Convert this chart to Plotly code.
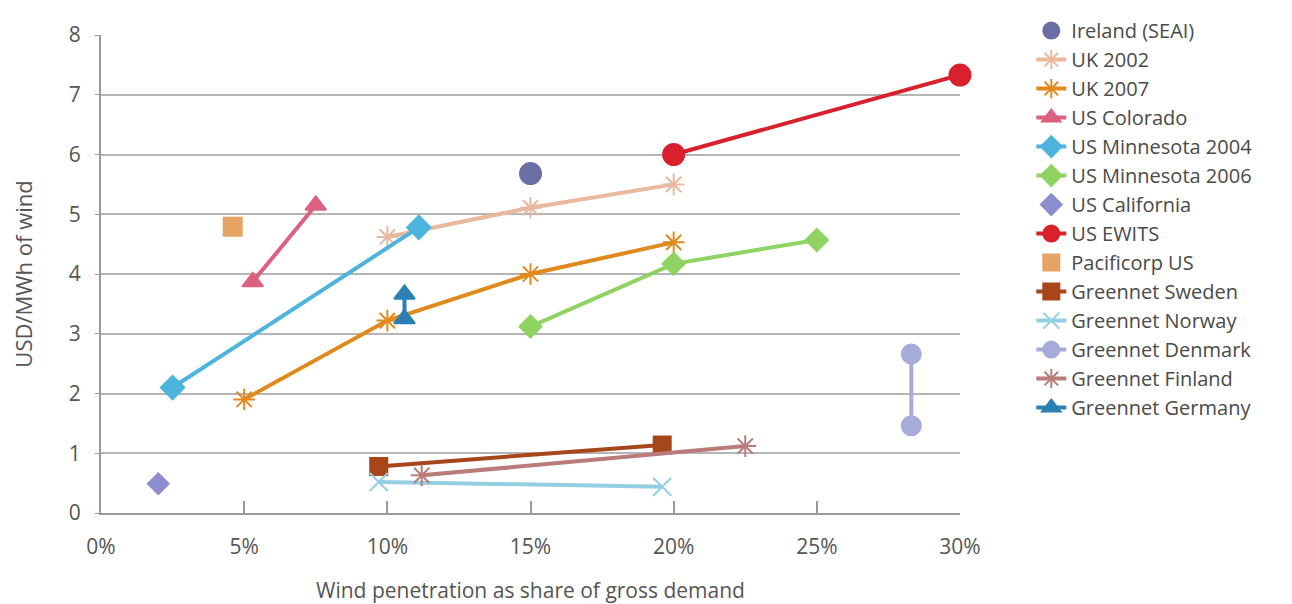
import plotly.graph_objects as go

# Wind integration cost studies: penetration (%) vs cost (USD/MWh of wind)
series_names = [
    "Ireland (SEAI)", "UK 2002", "UK 2007", "US Colorado", "US Minnesota 2004",
    "US Minnesota 2006", "US California", "US EWITS", "Pacificorp US",
    "Greennet Sweden", "Greennet Norway", "Greennet Denmark", "Greennet Finland",
    "Greennet Germany",
]
ireland_x, ireland_y = [15.0], [5.68]
uk2002_x, uk2002_y = [10.0, 15.0, 20.0], [4.62, 5.11, 5.5]
uk2007_x, uk2007_y = [5.0, 10.0, 15.0, 20.0], [1.9, 3.22, 4.0, 4.53]
colorado_x, colorado_y = [5.3, 7.5], [3.87, 5.15]
minn2004_x, minn2004_y = [2.5, 11.1], [2.1, 4.78]
minn2006_x, minn2006_y = [15.0, 20.0, 25.0], [3.12, 4.17, 4.57]
california_x, california_y = [2.0], [0.49]
ewits_x, ewits_y = [20.0, 30.0], [6.0, 7.33]
pacificorp_x, pacificorp_y = [4.6], [4.79]
sweden_x, sweden_y = [9.7, 19.6], [0.78, 1.14]
norway_x, norway_y = [9.7, 19.6], [0.52, 0.44]
denmark_x, denmark_y = [28.3, 28.3], [2.66, 1.46]
finland_x, finland_y = [11.2, 22.5], [0.63, 1.12]
germany_x, germany_y = [10.6, 10.6], [3.66, 3.25]

x_ticks = [0, 5, 10, 15, 20, 25, 30]
x_tick_text = ["0%", "5%", "10%", "15%", "20%", "25%", "30%"]
y_ticks = [0, 1, 2, 3, 4, 5, 6, 7, 8]

fig = go.Figure()

def add(name, xs, ys, color, symbol, size, mode="lines+markers", lw=4):
    fig.add_trace(go.Scatter(
        x=xs, y=ys, name=name, mode=mode, cliponaxis=False,
        line=dict(color=color, width=lw),
        marker=dict(color=color, symbol=symbol, size=size,
                    line=dict(color=color, width=2)),
    ))

add(series_names[0], ireland_x, ireland_y, "#6a6ea4", "circle", 21, mode="markers")
add(series_names[1], uk2002_x, uk2002_y, "#eab89c", "asterisk-open", 18)
add(series_names[2], uk2007_x, uk2007_y, "#e08a1e", "asterisk-open", 18)
add(series_names[3], colorado_x, colorado_y, "#dc6180", "triangle-up", 18)
add(series_names[4], minn2004_x, minn2004_y, "#4db5dd", "diamond", 18)
add(series_names[5], minn2006_x, minn2006_y, "#8fd462", "diamond", 17)
add(series_names[6], california_x, california_y, "#8c8ed0", "diamond", 16, mode="markers")
add(series_names[7], ewits_x, ewits_y, "#d8212c", "circle", 21)
add(series_names[8], pacificorp_x, pacificorp_y, "#e6a464", "square", 18, mode="markers")
add(series_names[9], sweden_x, sweden_y, "#a8461b", "square", 17)
add(series_names[10], norway_x, norway_y, "#92cfe2", "x-thin-open", 18)
add(series_names[11], denmark_x, denmark_y, "#a6acd8", "circle", 19)
add(series_names[12], finland_x, finland_y, "#b97c7a", "asterisk-open", 18)
add(series_names[13], germany_x, germany_y, "#2b80b2", "triangle-up", 18)

fig.update_layout(
    width=1292, height=604,
    margin=dict(l=93, r=340, t=27, b=99, autoexpand=False),
    paper_bgcolor="white", plot_bgcolor="white",
    font=dict(family="Open Sans", size=18, color="#555555"),
    legend=dict(x=1.083, y=1.05, xanchor="left", yanchor="top",
                font=dict(size=20, color="#4a4a4a"),
                tracegroupgap=0, maxheight=600),
    showlegend=True,
)
fig.update_xaxes(
    range=[0, 30], tickvals=x_ticks, ticktext=x_tick_text,
    showgrid=False, zeroline=False, automargin=False,
    showline=True, linecolor="#9a9a9a", linewidth=2,
    ticks="inside", ticklen=12, tickcolor="#9a9a9a", tickwidth=2,
    ticklabelstandoff=14,
    title=dict(text="Wind penetration as share of gross demand", standoff=24,
               font=dict(size=21)),
    tickfont=dict(size=21, color="#555555"),
)
fig.update_yaxes(
    range=[0, 8], tickvals=y_ticks,
    showgrid=True, gridcolor="#b5b5b5", gridwidth=2, zeroline=False,
    automargin=False,
    showline=True, linecolor="#9a9a9a", linewidth=2,
    ticks="outside", ticklen=4, tickcolor="#9a9a9a",
    ticklabelstandoff=10,
    title=dict(text="USD/MWh of wind", standoff=40, font=dict(size=22)),
    tickfont=dict(size=21, color="#555555"),
)

fig.write_html("out.html")
